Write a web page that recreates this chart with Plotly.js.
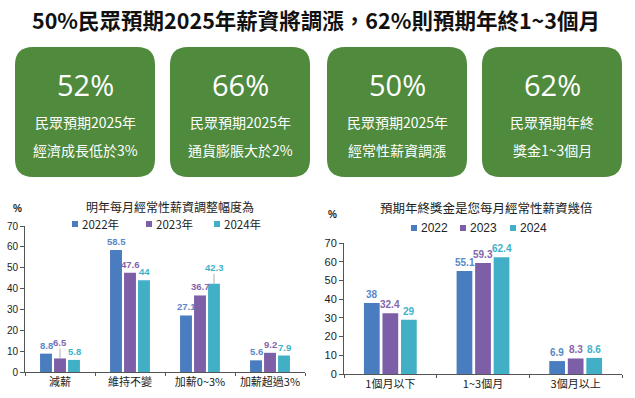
<!DOCTYPE html>
<html>
<head>
<meta charset="utf-8">
<script src="https://cdn.plot.ly/plotly-3.0.1.min.js"></script>
<style>html,body{margin:0;padding:0;background:#fff;}#chart{width:635px;height:398px;}</style>
</head>
<body>
<div id="chart"></div>
<script>
// ---- data ----
const mainTitle = "50%民眾預期2025年薪資將調漲，62%則預期年終1~3個月";
const cardValues = ["52%", "66%", "50%", "62%"];
const cardLine1 = ["民眾預期2025年", "民眾預期2025年", "民眾預期2025年", "民眾預期年終"];
const cardLine2 = ["經濟成長低於3%", "通貨膨脹大於2%", "經常性薪資調漲", "獎金1~3個月"];

const leftTitle = "明年每月經常性薪資調整幅度為";
const leftCategories = ["減薪", "維持不變", "加薪0~3%", "加薪超過3%"];
const leftSeriesNames = ["2022年", "2023年", "2024年"];
const left2022 = [8.8, 58.5, 27.1, 5.6];
const left2023 = [6.5, 47.6, 36.7, 9.2];
const left2024 = [5.8, 44, 42.3, 7.9];

const rightTitle = "預期年終獎金是您每月經常性薪資幾倍";
const rightCategories = ["1個月以下", "1~3個月", "3個月以上"];
const rightSeriesNames = ["2022", "2023", "2024"];
const right2022 = [38, 55.1, 6.9];
const right2023 = [32.4, 59.3, 8.3];
const right2024 = [29, 62.4, 8.6];

const yTicks = [0, 10, 20, 30, 40, 50, 60, 70];

// ---- styles ----
const barColors = ["#4a7cc0", "#7d5fa8", "#41b0c6"];
const labelColors = ["#5a88c8", "#8466ad", "#3fb2c8"];
const green = "#4f8a3d";
const FONT = "'Noto Sans CJK TC', 'Noto Sans', sans-serif";
const LABEL_FONT = "Arial, 'Liberation Sans', sans-serif";
const W = 635, H = 398;
const px = x => x / W;
const py = y => 1 - y / H;
// labels lifted with a leader line, as in the reference: [series index, category index]
const leftRaised = [[1, 0], [2, 2]];

function bars(x, y, name, i, xa, ya) {
  return {
    type: "bar", x: x, y: y, name: name, xaxis: xa, yaxis: ya,
    marker: {color: barColors[i]}, showlegend: false, hoverinfo: "skip"
  };
}

const leftSets = [left2022, left2023, left2024];
const rightSets = [right2022, right2023, right2024];
const traces = [];
leftSets.forEach((s, i) => traces.push(bars(leftCategories, s, leftSeriesNames[i], i, "x", "y")));
rightSets.forEach((s, i) => traces.push(bars(rightCategories, s, rightSeriesNames[i], i, "x2", "y2")));

// rounded card shapes
function roundRect(x0, y0, x1, y1, r) {
  const X = v => px(v).toFixed(5), Y = v => py(v).toFixed(5);
  return `M${X(x0 + r)},${Y(y0)} L${X(x1 - r)},${Y(y0)} Q${X(x1)},${Y(y0)} ${X(x1)},${Y(y0 + r)} ` +
         `L${X(x1)},${Y(y1 - r)} Q${X(x1)},${Y(y1)} ${X(x1 - r)},${Y(y1)} ` +
         `L${X(x0 + r)},${Y(y1)} Q${X(x0)},${Y(y1)} ${X(x0)},${Y(y1 - r)} ` +
         `L${X(x0)},${Y(y0 + r)} Q${X(x0)},${Y(y0)} ${X(x0 + r)},${Y(y0)} Z`;
}
const cardX = [[15, 155], [170, 310], [327, 467], [482, 622]];
const shapes = cardX.map(c => ({
  type: "path", xref: "paper", yref: "paper", path: roundRect(c[0], 47, c[1], 177, 18),
  fillcolor: green, line: {width: 0}, layer: "below"
}));

const annotations = [];
function ann(text, x, y, font, xanchor) {
  annotations.push({text: text, xref: "paper", yref: "paper", x: px(x), y: py(y),
    xanchor: xanchor || "center", yanchor: "middle", showarrow: false, font: font});
}
ann(mainTitle, 316, 19, {family: FONT, size: 21.5, color: "#111", weight: "bold"});
cardX.forEach((c, i) => {
  const cx = (c[0] + c[1]) / 2;
  ann(cardValues[i], cx, 85, {family: "'Open Sans', 'Noto Sans', sans-serif", size: 29, color: "#fff"});
  ann(cardLine1[i], cx, 122, {family: FONT, size: 14, color: "#fff"});
  ann(cardLine2[i], cx, 150, {family: FONT, size: 14, color: "#fff"});
});
// chart titles and % labels
ann(leftTitle, 170, 206, {family: FONT, size: 12, color: "#222"});
ann("%", 17, 208, {family: "Arial, sans-serif", size: 10, color: "#222", weight: "bold"});
ann(rightTitle, 487, 207, {family: FONT, size: 12.5, color: "#222"});
ann("%", 332, 215, {family: "Arial, sans-serif", size: 10, color: "#222", weight: "bold"});
// legends (drawn as marker + text)
const leftLegX = [72, 146, 214];
const rightLegX = [411, 460, 510];
leftSeriesNames.forEach((n, i) => {
  shapes.push({type: "rect", xref: "paper", yref: "paper", x0: px(leftLegX[i]), x1: px(leftLegX[i] + 6),
    y0: py(227), y1: py(221), fillcolor: barColors[i], line: {width: 0}});
  ann(n, leftLegX[i] + 8, 224, {family: FONT, size: 11.5, color: "#222"}, "left");
});
rightSeriesNames.forEach((n, i) => {
  shapes.push({type: "rect", xref: "paper", yref: "paper", x0: px(rightLegX[i]), x1: px(rightLegX[i] + 6),
    y0: py(231), y1: py(225), fillcolor: barColors[i], line: {width: 0}});
  ann(n, rightLegX[i] + 8, 228, {family: "Arial, sans-serif", size: 12, color: "#222"}, "left");
});

// bar value labels, placed on the axes at each bar's data value
function addLabels(cats, sets, xa, ya, slot, raised, size) {
  sets.forEach((s, i) => s.forEach((v, j) => {
    const isRaised = raised.some(r => r[0] === i && r[1] === j);
    const a = {xref: xa, yref: ya, x: cats[j], y: v, text: String(v), xshift: (i - 1) * slot, borderpad: 0,
      font: {family: LABEL_FONT, size: size, color: labelColors[i], weight: "bold"}};
    if (isRaised) {
      Object.assign(a, {showarrow: true, arrowhead: 0, arrowwidth: 0.8, arrowcolor: "#999",
        ax: 0, ay: -16, standoff: 0});
    } else {
      Object.assign(a, {showarrow: false, yanchor: "bottom", yshift: 2});
    }
    annotations.push(a);
  }));
}
addLabels(leftCategories, leftSets, "x", "y", 14, leftRaised, 9.5);
addLabels(rightCategories, rightSets, "x2", "y2", 18.5, [], 10);

const axisCommon = {showline: true, linecolor: "#555", linewidth: 1, ticks: "outside", ticklen: 4,
  tickcolor: "#555", showgrid: false, zeroline: false, fixedrange: true,
  tickfont: {family: FONT, size: 11, color: "#222"}};

const layout = {
  width: W, height: H, margin: {l: 0, r: 0, t: 0, b: 0},
  paper_bgcolor: "#fff", plot_bgcolor: "rgba(0,0,0,0)",
  barmode: "group", bargap: 0.4, bargroupgap: 0.15, showlegend: false,
  xaxis: Object.assign({}, axisCommon, {domain: [px(25), px(305)], anchor: "y", tickson: "boundaries", ticklen: 3}),
  yaxis: Object.assign({}, axisCommon, {domain: [py(372), py(226)], anchor: "x", range: [0, 70], tickvals: yTicks,
    tickfont: {family: "Arial, sans-serif", size: 10, color: "#222"}}),
  xaxis2: Object.assign({}, axisCommon, {domain: [px(344), px(622)], anchor: "y2", tickson: "boundaries", ticklen: 3}),
  yaxis2: Object.assign({}, axisCommon, {domain: [py(374), py(243)], anchor: "x2", range: [0, 70], tickvals: yTicks,
    tickfont: {family: "Arial, sans-serif", size: 11, color: "#222"}}),
  shapes: shapes, annotations: annotations,
  font: {family: FONT}
};

Plotly.newPlot("chart", traces, layout, {displayModeBar: false, staticPlot: true});
</script>
</body>
</html>
